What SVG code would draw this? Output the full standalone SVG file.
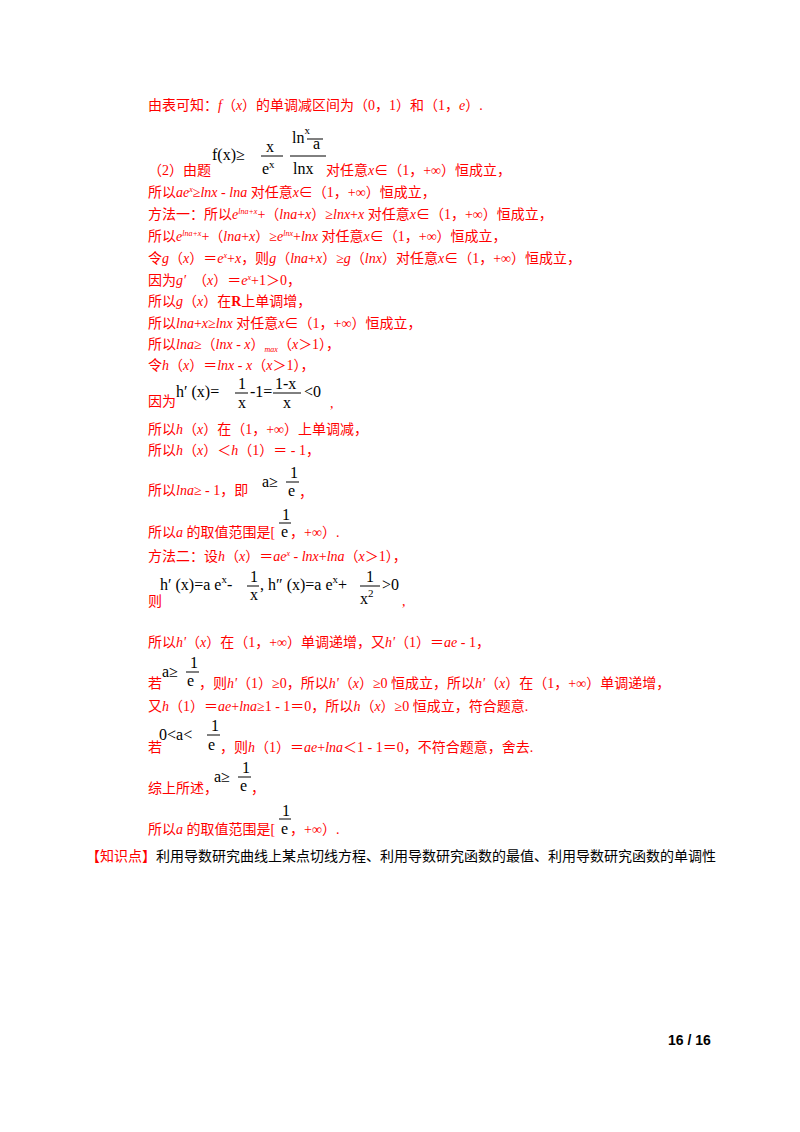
<svg xmlns="http://www.w3.org/2000/svg" width="800" height="1132" viewBox="0 0 800 1132">
<style>
.t{font-family:"Liberation Serif","Noto Sans CJK SC",serif;font-size:14px;fill:#ff0000}
.i{font-style:italic}
.m{font-family:"Liberation Serif","Noto Sans CJK SC",serif;font-size:16px;fill:#000}
.k{font-family:"Liberation Serif","Noto Sans CJK SC",serif;font-size:14px;fill:#000}
.fl{stroke:#000;stroke-width:1}
</style>
<rect width="800" height="1132" fill="#fff"/>
<g id="text">
<text class="t" x="148" y="110">由表可知：<tspan class="i">f</tspan>（<tspan class="i">x</tspan>）的单调减区间为（0，1）和（1，<tspan class="i">e</tspan>）.</text>
<text class="m" x="212" y="160">f(x)≥</text>
<text class="m" x="266" y="152">x</text><line class="fl" x1="261" y1="156" x2="283" y2="156"/><text class="m" x="262" y="174">e<tspan dy="-6" font-size="11">x</tspan></text>
<text class="m" x="292" y="143">ln<tspan dy="-9" font-size="11">x</tspan></text><line class="fl" x1="307" y1="139" x2="323" y2="139"/><text class="m" x="313" y="149" font-size="11">a</text>
<line class="fl" x1="290" y1="156" x2="326" y2="156"/><text class="m" x="293" y="174">lnx</text>
<text class="t" x="148" y="175">（2）由题</text><text class="t" x="326" y="175">对任意<tspan class="i">x</tspan>∈（1，+∞）恒成立，</text>
<text class="t" x="148" y="197">所以<tspan class="i">ae<tspan dy="-5" font-size="8">x</tspan><tspan dy="5">≥lnx</tspan></tspan> - <tspan class="i">lna</tspan> 对任意<tspan class="i">x</tspan>∈（1，+∞）恒成立，</text>
<text class="t" x="148" y="219">方法一：所以<tspan class="i">e<tspan dy="-5" font-size="8">lna+x</tspan></tspan><tspan dy="5">+（</tspan><tspan class="i">lna</tspan>+<tspan class="i">x</tspan>）≥<tspan class="i">lnx</tspan>+<tspan class="i">x</tspan> 对任意<tspan class="i">x</tspan>∈（1，+∞）恒成立，</text>
<text class="t" x="148" y="241">所以<tspan class="i">e<tspan dy="-5" font-size="8">lna+x</tspan></tspan><tspan dy="5">+（</tspan><tspan class="i">lna</tspan>+<tspan class="i">x</tspan>）≥<tspan class="i">e<tspan dy="-5" font-size="8">lnx</tspan></tspan><tspan dy="5">+</tspan><tspan class="i">lnx</tspan> 对任意<tspan class="i">x</tspan>∈（1，+∞）恒成立，</text>
<text class="t" x="148" y="263">令<tspan class="i">g</tspan>（<tspan class="i">x</tspan>）＝<tspan class="i">e<tspan dy="-5" font-size="8">x</tspan></tspan><tspan dy="5">+</tspan><tspan class="i">x</tspan>，则<tspan class="i">g</tspan>（<tspan class="i">lna</tspan>+<tspan class="i">x</tspan>）≥<tspan class="i">g</tspan>（<tspan class="i">lnx</tspan>）对任意<tspan class="i">x</tspan>∈（1，+∞）恒成立，</text>
<text class="t" x="148" y="285">因为<tspan class="i">g′</tspan>　（<tspan class="i">x</tspan>）＝<tspan class="i">e<tspan dy="-5" font-size="8">x</tspan></tspan><tspan dy="5">+1＞0，</tspan></text>
<text class="t" x="148" y="306">所以<tspan class="i">g</tspan>（<tspan class="i">x</tspan>）在<tspan font-weight="bold">R</tspan>上单调增，</text>
<text class="t" x="148" y="328">所以<tspan class="i">lna</tspan>+<tspan class="i">x</tspan>≥<tspan class="i">lnx</tspan> 对任意<tspan class="i">x</tspan>∈（1，+∞）恒成立，</text>
<text class="t" x="148" y="349">所以<tspan class="i">lna</tspan>≥（<tspan class="i">lnx</tspan> - <tspan class="i">x</tspan>）<tspan class="i" font-size="8" dy="3">max</tspan><tspan dy="-3">（</tspan><tspan class="i">x</tspan>＞1），</text>
<text class="t" x="148" y="370">令<tspan class="i">h</tspan>（<tspan class="i">x</tspan>）＝<tspan class="i">lnx</tspan> - <tspan class="i">x</tspan>（<tspan class="i">x</tspan>＞1），</text>
<text class="t" x="148" y="406">因为</text>
<text class="m" x="176" y="397">h′  (x)=</text><text class="m" x="238" y="389">1</text><line class="fl" x1="235" y1="393" x2="248" y2="393"/><text class="m" x="238" y="408">x</text>
<text class="m" x="250" y="397">-1=</text><text class="m" x="275" y="389">1-x</text><line class="fl" x1="273" y1="393" x2="301" y2="393"/><text class="m" x="283" y="408">x</text>
<text class="m" x="304" y="397">&lt;0</text><text class="t" x="330" y="408">,</text>
<text class="t" x="148" y="434">所以<tspan class="i">h</tspan>（<tspan class="i">x</tspan>）在（1，+∞）上单调减，</text>
<text class="t" x="148" y="455">所以<tspan class="i">h</tspan>（<tspan class="i">x</tspan>）＜<tspan class="i">h</tspan>（1）＝ - 1，</text>
<text class="t" x="148" y="495">所以<tspan class="i">lna</tspan>≥ - 1，即</text>
<text class="m" x="262" y="487" font-size="13">a≥</text><text class="m" x="290" y="478">1</text><line class="fl" x1="286" y1="482" x2="299" y2="482"/><text class="m" x="288" y="496" font-size="13">e</text><text class="t" x="299" y="497">，</text>
<text class="m" x="282" y="520">1</text><line class="fl" x1="279" y1="523" x2="291" y2="523"/>
<text class="t" x="148" y="537">所以<tspan class="i">a</tspan> 的取值范围是[</text><text class="m" x="281" y="537" font-size="13">e</text><text class="t" x="290" y="537">，+∞）.</text>
<text class="t" x="148" y="561">方法二：设<tspan class="i">h</tspan>（<tspan class="i">x</tspan>）＝<tspan class="i">ae<tspan dy="-5" font-size="8">x</tspan></tspan><tspan dy="5"> - </tspan><tspan class="i">lnx</tspan>+<tspan class="i">lna</tspan>（<tspan class="i">x</tspan>＞1），</text>
<text class="m" x="160" y="590">h′  (x)=a e<tspan dy="-7" font-size="11">x</tspan><tspan dy="7">-</tspan></text><text class="m" x="250" y="582">1</text><line class="fl" x1="247" y1="586" x2="259" y2="586"/><text class="m" x="250" y="600">x</text>
<text class="m" x="260" y="590">,  h″  (x)=a e<tspan dy="-7" font-size="11">x</tspan><tspan dy="7">+</tspan></text><text class="m" x="366" y="582">1</text><line class="fl" x1="360" y1="586" x2="380" y2="586"/><text class="m" x="360" y="604">x<tspan dy="-7" font-size="11">2</tspan></text>
<text class="m" x="382" y="590">&gt;0</text>
<text class="t" x="148" y="606">则</text><text class="t" x="402" y="606">,</text>
<text class="t" x="148" y="647">所以<tspan class="i">h'</tspan>（<tspan class="i">x</tspan>）在（1，+∞）单调递增，又<tspan class="i">h'</tspan>（1）＝<tspan class="i">ae</tspan> - 1，</text>
<text class="m" x="162" y="677" font-size="13">a≥</text><text class="m" x="190" y="668">1</text><line class="fl" x1="186" y1="672" x2="199" y2="672"/>
<text class="t" x="148" y="688">若</text><text class="m" x="187" y="686" font-size="13">e</text><text class="t" x="199" y="688">，则<tspan class="i">h'</tspan>（1）≥0，所以<tspan class="i">h'</tspan>（<tspan class="i">x</tspan>）≥0 恒成立，所以<tspan class="i">h'</tspan>（<tspan class="i">x</tspan>）在（1，+∞）单调递增，</text>
<text class="t" x="148" y="711">又<tspan class="i">h</tspan>（1）＝<tspan class="i">ae</tspan>+<tspan class="i">lna</tspan>≥1 - 1＝0，所以<tspan class="i">h</tspan>（<tspan class="i">x</tspan>）≥0 恒成立，符合题意.</text>
<text class="m" x="159" y="740">0&lt;a&lt;</text><text class="m" x="211" y="731">1</text><line class="fl" x1="207" y1="735" x2="220" y2="735"/>
<text class="t" x="148" y="752">若</text><text class="m" x="208" y="750" font-size="13">e</text><text class="t" x="220" y="752">，则<tspan class="i">h</tspan>（1）＝<tspan class="i">ae</tspan>+<tspan class="i">lna</tspan>＜1 - 1＝0，不符合题意，舍去.</text>
<text class="m" x="214" y="782" font-size="13">a≥</text><text class="m" x="242" y="773">1</text><line class="fl" x1="238" y1="777" x2="251" y2="777"/>
<text class="t" x="148" y="793">综上所述，</text><text class="m" x="240" y="791" font-size="13">e</text><text class="t" x="251" y="793">，</text>
<text class="m" x="282" y="816">1</text><line class="fl" x1="279" y1="819" x2="291" y2="819"/>
<text class="t" x="148" y="834">所以<tspan class="i">a</tspan> 的取值范围是[</text><text class="m" x="281" y="834" font-size="13">e</text><text class="t" x="290" y="834">，+∞）.</text>
<text class="k" x="86" y="861"><tspan fill="#ff0000">【知识点】</tspan>利用导数研究曲线上某点切线方程、利用导数研究函数的最值、利用导数研究函数的单调性</text>
<text x="668" y="1045" font-family="Liberation Sans,sans-serif" font-size="14" font-weight="bold" fill="#000">16 / 16</text>
</g>
</svg>
